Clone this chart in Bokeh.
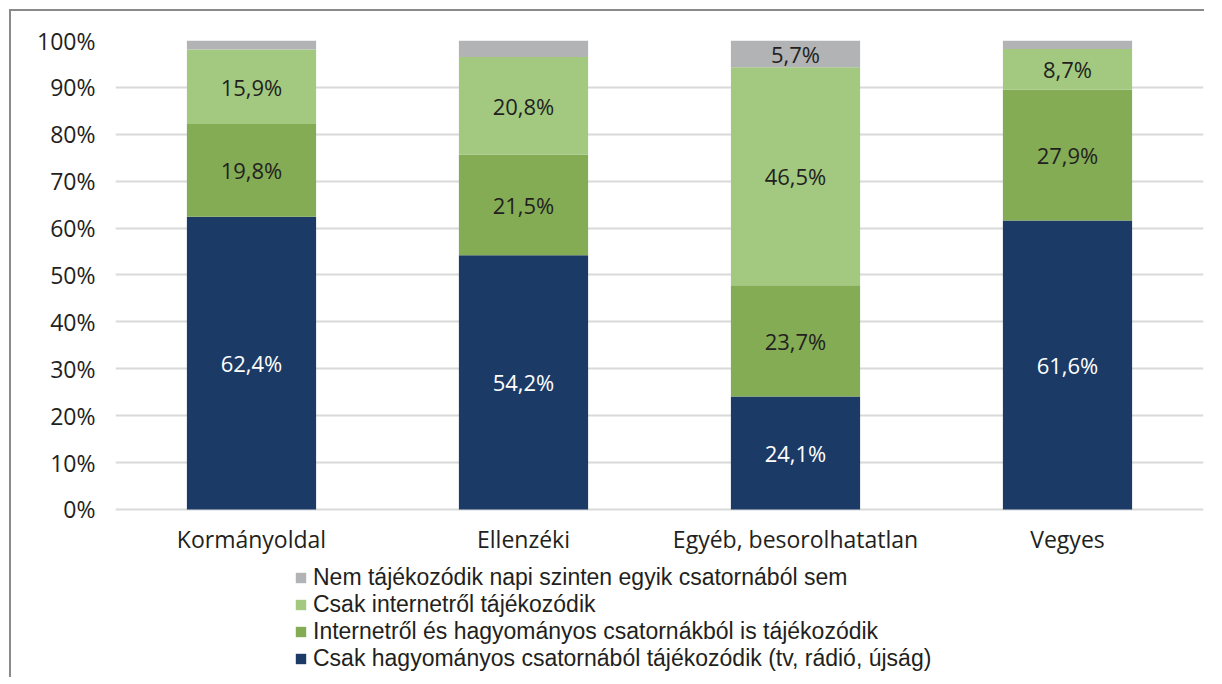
from bokeh.plotting import figure
from bokeh.models import (ColumnDataSource, FactorRange, Range1d, Legend, LegendItem,
                          FixedTicker, CustomJSTickFormatter)
from bokeh.embed import file_html
from bokeh.resources import INLINE
from bokeh.core.properties import value

categories = ["Kormányoldal", "Ellenzéki", "Egyéb, besorolhatatlan", "Vegyes"]
traditional = [62.4, 54.2, 24.1, 61.6]
both = [19.8, 21.5, 23.7, 27.9]
internet_only = [15.9, 20.8, 46.5, 8.7]
none = [1.9, 3.5, 5.7, 1.8]

series_names = [
    "Csak hagyományos csatornából tájékozódik (tv, rádió, újság)",
    "Internetről és hagyományos csatornákból is tájékozódik",
    "Csak internetről tájékozódik",
    "Nem tájékozódik napi szinten egyik csatornából sem",
]
colors = ["#1B3B66", "#84AC54", "#A2C97F", "#B1B3B4"]
label_colors = ["#FFFFFF", "#231F20", "#231F20", "#231F20"]
FONT = "Open Sans"
LEG_FONT = "Liberation Sans"
TXT = "#231F20"

series = [traditional, both, internet_only, none]
keys = ["s0", "s1", "s2", "s3"]
data = {"cat": categories}
for k, s in zip(keys, series):
    data[k] = [v / 100 for v in s]
source = ColumnDataSource(data)

# frame extends below 0 to leave room for category labels and legend
p = figure(x_range=FactorRange(*categories, range_padding=0), y_range=Range1d(-0.3625, 1),
           width=1195, height=668, output_backend="svg", toolbar_location=None,
           x_axis_location=None,
           min_border_left=104, min_border_right=3, min_border_top=29, min_border_bottom=0)
p.outline_line_color = None
p.styles = {"border-top": "2px solid #8a8a8a", "border-left": "2px solid #8a8a8a",
            "margin-left": "9px", "margin-top": "9px"}

renderers = p.vbar_stack(keys, x="cat", width=0.475, source=source, color=colors, line_color=None)

# segment labels
for i, (k, s) in enumerate(zip(keys, series)):
    bottoms = [sum(series[j][c] for j in range(i)) for c in range(len(categories))]
    mids = [(b + v / 2) / 100 for b, v in zip(bottoms, s)]
    texts = [(f"{v:.1f}".replace(".", ",") + "%") if v >= 5 else "" for v in s]
    src = ColumnDataSource(dict(cat=categories, y=mids, t=texts))
    p.text(x="cat", y="y", text="t", source=src, text_align="center", text_baseline="middle",
           text_font=value(FONT), text_font_size="22px", text_color=label_colors[i])

# category labels under the bars
cat_src = ColumnDataSource(dict(cat=categories, y=[0] * len(categories), t=categories))
p.text(x="cat", y="y", text="t", source=cat_src, y_offset=30, text_align="center",
       text_baseline="middle", text_font=value(FONT), text_font_size="23px", text_color=TXT)

# y axis
p.yaxis.ticker = FixedTicker(ticks=[i / 10 for i in range(11)])
p.yaxis.formatter = CustomJSTickFormatter(code="return Math.round(tick*100) + '%';")
p.yaxis.axis_line_color = None
p.yaxis.major_tick_line_color = None
p.yaxis.minor_tick_line_color = None
p.yaxis.major_tick_out = 0
p.yaxis.major_tick_in = 0
p.yaxis.major_label_text_font = FONT
p.yaxis.major_label_text_color = TXT
p.yaxis.major_label_text_font_size = "23px"
p.yaxis.major_label_standoff = 20
p.xgrid.grid_line_color = None
p.ygrid.grid_line_color = "#D9D9D9"
p.ygrid.grid_line_width = 2

# legend: one row per Legend so the row pitch can be set exactly
legend_rows_y = [88, 61, 34, 7]
for row, i in enumerate([3, 2, 1, 0]):
    lg = Legend(items=[LegendItem(label=series_names[i], renderers=[renderers[i]])],
                location=(179, legend_rows_y[row]), orientation="vertical",
                glyph_width=13, glyph_height=13, label_height=20, spacing=0, padding=0,
                margin=0, label_standoff=6, border_line_color=None, background_fill_alpha=0,
                label_text_font=LEG_FONT, label_text_font_size="23px", label_text_color=TXT)
    p.add_layout(lg, "center")

open("out.html", "w").write(file_html(p, INLINE))
